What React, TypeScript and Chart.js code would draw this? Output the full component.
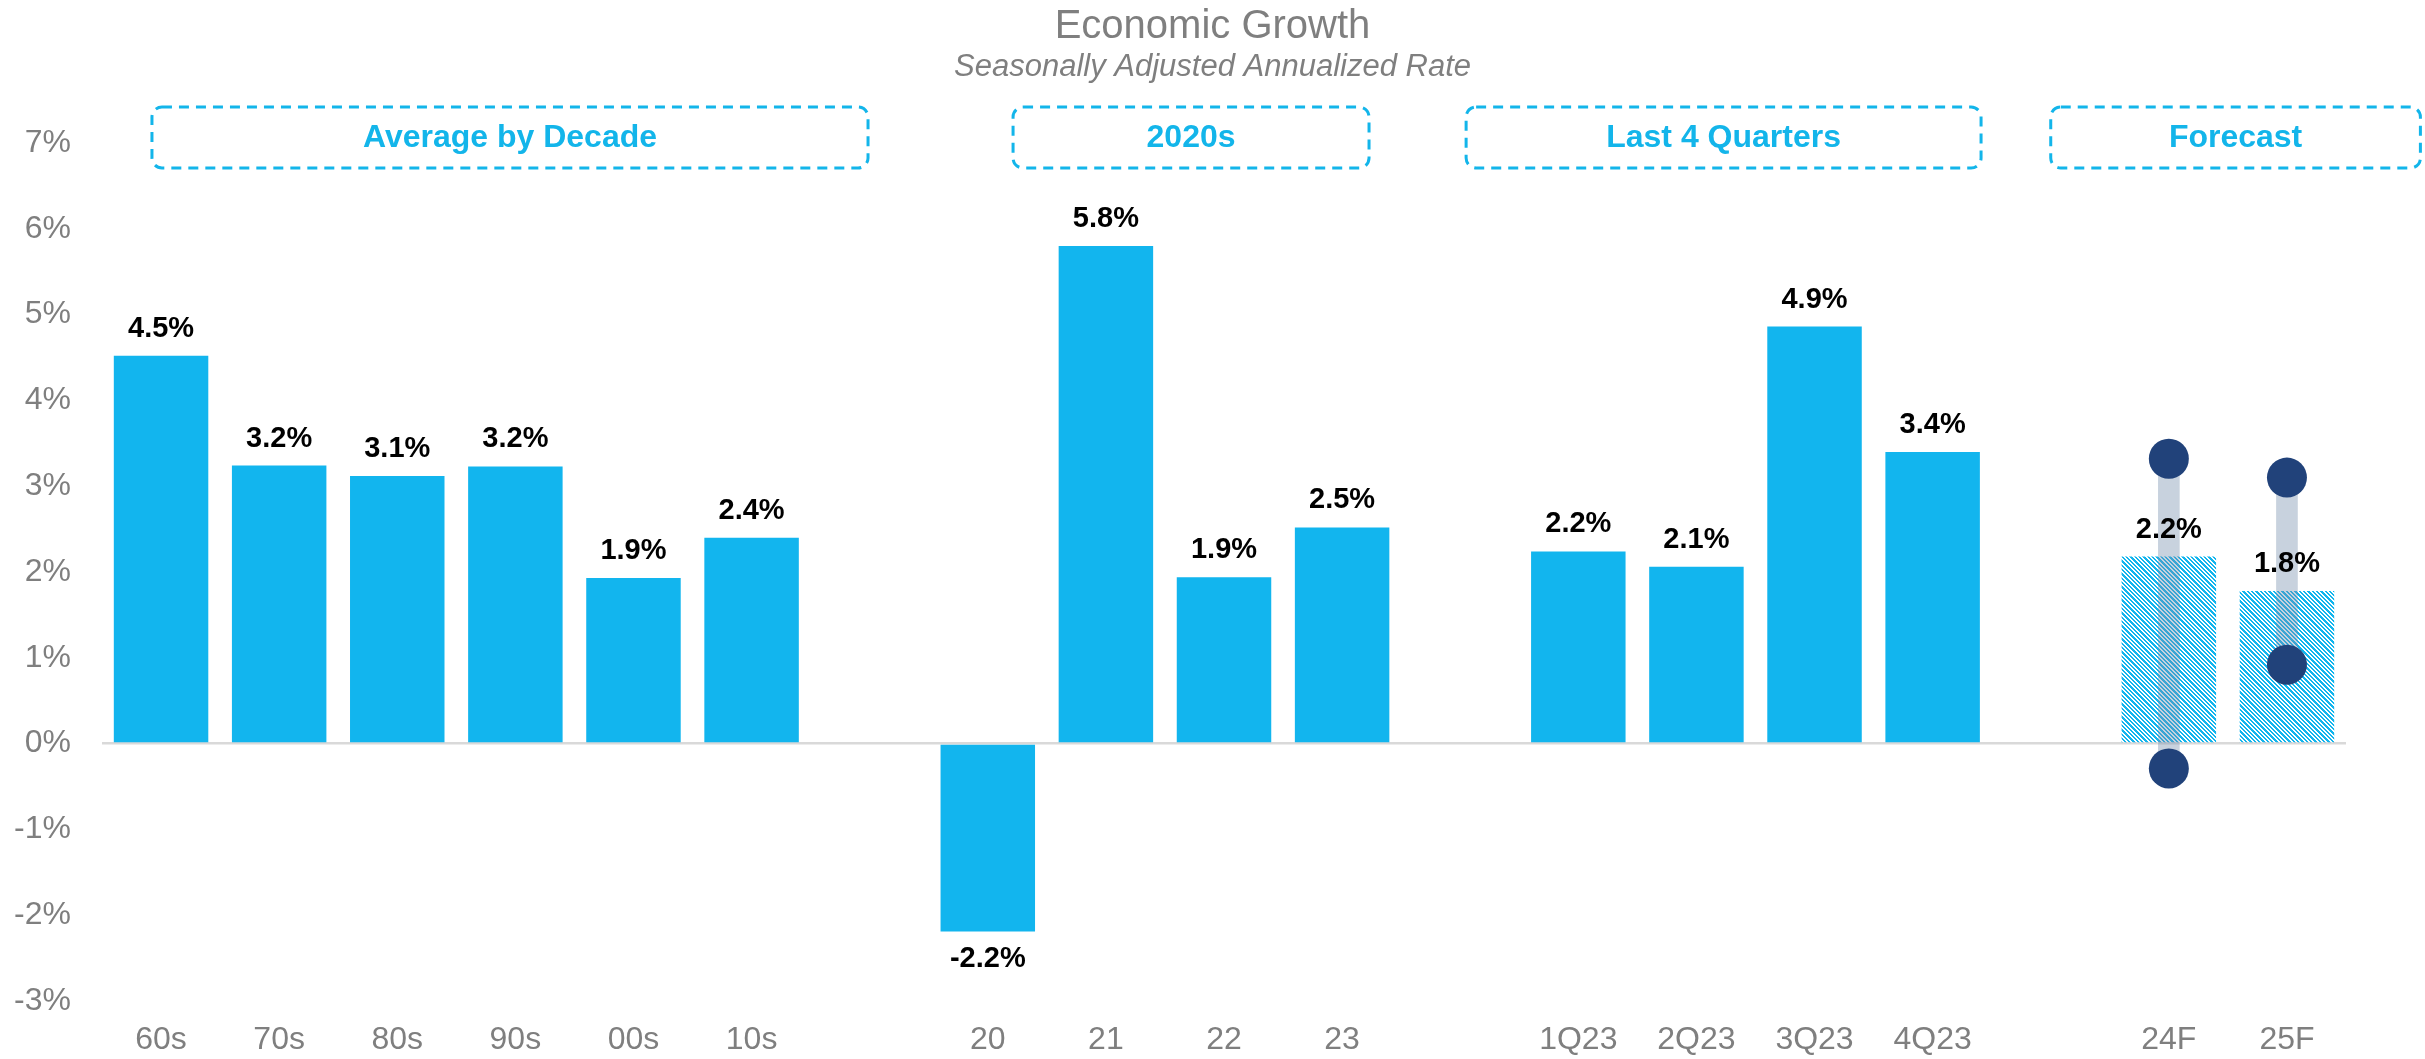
import React, { useEffect, useRef } from 'react';
import { Chart, registerables } from 'chart.js';

Chart.register(...registerables);

// ---------- data ----------
const categories = ['60s', '70s', '80s', '90s', '00s', '10s', '', '20', '21', '22', '23', '', '1Q23', '2Q23', '3Q23', '4Q23', '', '24F', '25F'];
const growth = [4.52, 3.24, 3.12, 3.23, 1.93, 2.4, null, -2.19, 5.8, 1.94, 2.52, null, 2.24, 2.06, 4.86, 3.4, null, 2.18, 1.78];
const forecastCategories = ['24F', '25F'];
const rangeLow = [null, null, null, null, null, null, null, null, null, null, null, null, null, null, null, null, null, -0.29, 0.92];
const rangeHigh = [null, null, null, null, null, null, null, null, null, null, null, null, null, null, null, null, null, 3.32, 3.1];
const yMin = -3;
const yMax = 7;
const groupLabels = ['Average by Decade', '2020s', 'Last 4 Quarters', 'Forecast'];
const titleText = 'Economic Growth';
const subtitleText = 'Seasonally Adjusted Annualized Rate';

// ---------- layout / style ----------
const W = 2425;
const H = 1059;
const FONT = '"Liberation Sans", Arial, Helvetica, sans-serif';
const CYAN = '#12b5ee';
const BOX_CYAN = '#13b5ea';
const NAVY = '#21427a';
const GRAY = '#7f7f7f';
// group boxes in category-index coordinates (start, end)
const groupSpans: [number, number][] = [
  [-0.077, 5.986],
  [7.214, 10.228],
  [11.05, 15.41],
  [16.0, 19.13],
];

function makeHatch(): CanvasPattern | string {
  const size = 13;
  const c = document.createElement('canvas');
  c.width = size;
  c.height = size;
  const g = c.getContext('2d');
  if (!g) return CYAN;
  g.fillStyle = '#ffffff';
  g.fillRect(0, 0, size, size);
  g.fillStyle = CYAN;
  const period = size / 3;
  for (let y = 0; y < size; y++) {
    for (let x = 0; x < size; x++) {
      const v = (((x - y) % size) + size) % size;
      if (v % period < period / 2) g.fillRect(x, y, 1, 1);
    }
  }
  const p = g.createPattern(c, 'repeat');
  return p || CYAN;
}

export default function App() {
  const ref = useRef<HTMLCanvasElement | null>(null);

  useEffect(() => {
    const canvas = ref.current;
    if (!canvas) return;
    const hatch = makeHatch();

    const isForecast = (i: number) => forecastCategories.includes(categories[i]);

    const decorPlugin = {
      id: 'decor',
      afterDatasetsDraw(chart: any) {
        const ctx = chart.ctx;
        const meta = chart.getDatasetMeta(0);
        ctx.save();
        ctx.fillStyle = '#000000';
        ctx.textAlign = 'center';
        meta.data.forEach((el: any, i: number) => {
          const v = growth[i];
          if (v === null || v === undefined) return;
          const txt = v.toFixed(1) + '%';
          ctx.font = `bold 29px ${FONT}`;
          if (v >= 0) {
            ctx.textBaseline = 'alphabetic';
            ctx.fillText(txt, el.x, el.y - 19);
          } else {
            ctx.textBaseline = 'top';
            ctx.fillText(txt, el.x, el.y + 13);
          }
        });
        ctx.restore();
      },
      afterDraw(chart: any) {
        const ctx = chart.ctx;
        const xs = chart.scales.x;
        const area = chart.chartArea;
        const step = (area.right - area.left) / categories.length;
        const px = (idx: number) => area.left + (idx + 0.5) * step;
        ctx.save();
        // title
        ctx.fillStyle = GRAY;
        ctx.textAlign = 'center';
        ctx.textBaseline = 'middle';
        ctx.font = `40px ${FONT}`;
        ctx.fillText(titleText, W / 2, 27);
        ctx.font = `italic 31px ${FONT}`;
        ctx.fillText(subtitleText, W / 2, 67);
        // group boxes
        groupLabels.forEach((lbl, k) => {
          const [a, b] = groupSpans[k];
          const x0 = px(a);
          const x1 = px(b);
          const y0 = 107;
          const y1 = 168;
          ctx.beginPath();
          ctx.setLineDash([10, 7]);
          ctx.lineWidth = 3;
          ctx.strokeStyle = BOX_CYAN;
          if ((ctx as any).roundRect) {
            (ctx as any).roundRect(x0, y0, x1 - x0, y1 - y0, 10);
          } else {
            ctx.rect(x0, y0, x1 - x0, y1 - y0);
          }
          ctx.stroke();
          ctx.setLineDash([]);
          ctx.fillStyle = BOX_CYAN;
          ctx.font = `bold 32px ${FONT}`;
          ctx.textAlign = 'center';
          ctx.textBaseline = 'middle';
          ctx.fillText(lbl, (x0 + x1) / 2, 138);
        });
        ctx.restore();
        void xs;
      },
    };

    const chart = new Chart(canvas, {
      type: 'bar',
      data: {
        labels: categories,
        datasets: [
          {
            type: 'bar',
            data: growth as any,
            backgroundColor: categories.map((_, i) => (isForecast(i) ? hatch : CYAN)) as any,
            borderWidth: 0,
            barPercentage: 0.8,
            categoryPercentage: 1.0,
            grouped: false,
            order: 3,
          } as any,
          {
            type: 'bar',
            data: categories.map((_, i) => (rangeLow[i] !== null ? [rangeLow[i], rangeHigh[i]] : null)) as any,
            backgroundColor: 'rgba(117,142,172,0.4)',
            borderWidth: 0,
            barThickness: 21,
            grouped: false,
            order: 2,
          } as any,
          {
            type: 'line',
            data: rangeHigh as any,
            showLine: false,
            pointRadius: 20,
            pointHoverRadius: 20,
            pointBackgroundColor: NAVY,
            pointBorderWidth: 0,
            order: 1,
          } as any,
          {
            type: 'line',
            data: rangeLow as any,
            showLine: false,
            pointRadius: 20,
            pointHoverRadius: 20,
            pointBackgroundColor: NAVY,
            pointBorderWidth: 0,
            order: 1,
          } as any,
        ],
      },
      options: {
        animation: false,
        responsive: false,
        maintainAspectRatio: false,
        events: [],
        layout: { padding: { top: 143, right: 79, bottom: 0, left: 0 } },
        plugins: {
          legend: { display: false },
          tooltip: { enabled: false },
          title: { display: false },
        },
        scales: {
          x: {
            offset: true,
            grid: { display: false, drawTicks: false },
            border: { display: false },
            ticks: {
              color: GRAY,
              font: { family: FONT, size: 32 },
              padding: 20,
              autoSkip: false,
              maxRotation: 0,
            },
            afterFit: (s: any) => {
              s.height = 58;
            },
          },
          y: {
            min: yMin,
            max: yMax,
            grid: {
              drawTicks: false,
              color: (c: any) => (c.tick && c.tick.value === 0 ? '#d9d9d9' : 'rgba(0,0,0,0)'),
              lineWidth: 2.5,
            },
            border: { display: false },
            ticks: {
              stepSize: 1,
              color: GRAY,
              font: { family: FONT, size: 32 },
              padding: 31,
              callback: (v: any) => `${v}%`,
            },
            afterFit: (s: any) => {
              s.width = 102;
            },
          },
        },
      },
      plugins: [decorPlugin],
    } as any);

    return () => chart.destroy();
  }, []);

  return (
    <div style={{ position: 'absolute', left: 0, top: 0, width: W, height: H, background: '#ffffff' }}>
      <canvas ref={ref} width={W} height={H} style={{ width: W, height: H, display: 'block' }} />
    </div>
  );
}
